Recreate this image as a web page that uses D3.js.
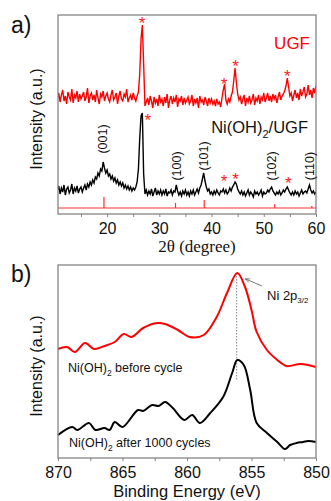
<!DOCTYPE html>
<html>
<head>
<meta charset="utf-8">
<script src="https://cdn.jsdelivr.net/npm/d3@7"></script>
<style>
  body { margin: 0; background: #fff; }
  svg { display: block; font-family: "Liberation Sans", Arial, sans-serif; }
</style>
</head>
<body>
<div id="chart"></div>
<script>
// XRD: intensities sampled every 0.25 deg from 10.5 to 60 deg
const xrdStart = 10.5, xrdStep = 0.25;
const ugfCounts = [
  116,121,112,119,124,113,118,110,122,117,114,125,111,119,116,123,112,120,115,118,
  122,113,117,126,111,118,121,114,119,112,124,116,110,120,117,123,113,118,121,115,
  112,119,124,114,117,121,110,118,123,115,113,120,117,125,112,116,119,114,121,116,
  113,118,122,140,175,189,150,108,112,116,109,118,113,106,117,111,115,108,119,112,
  115,108,117,111,120,106,114,118,110,116,112,119,107,115,113,118,109,116,111,114,
  117,110,113,119,108,115,111,116,106,118,112,114,109,117,113,108,116,111,115,110,
  113,108,115,110,112,107,116,124,130,114,110,115,112,118,122,133,146,132,120,114,
  117,110,115,119,108,116,112,118,111,114,120,109,116,113,119,110,117,114,121,112,
  116,121,113,118,112,120,115,119,111,117,122,114,118,120,123,128,136,127,118,121,
  113,119,124,116,121,114,125,118,122,127,117,120,129,119,124,116,126,121,128
];
const niUgfCounts = [
  24,28,20,26,22,29,19,25,27,21,24,30,20,26,23,28,21,25,27,22,
  26,29,24,30,27,32,29,34,31,37,35,41,38,45,43,52,46,41,44,38,
  40,35,38,33,36,31,34,29,32,28,31,26,29,25,28,24,27,23,26,24,
  27,32,45,76,98,101,40,20,24,19,23,20,25,18,22,26,19,23,20,24,
  19,23,20,25,18,22,21,24,19,23,22,29,23,19,22,18,23,20,24,19,
  22,18,23,20,24,19,22,25,21,26,29,35,41,33,27,23,25,20,22,19,
  23,20,24,21,19,23,22,25,21,24,20,22,26,23,27,29,32,30,25,22,
  20,23,19,22,18,21,24,19,22,20,17,23,20,22,19,21,24,18,22,20,
  21,24,22,25,27,23,21,19,22,20,23,19,21,24,22,25,27,24,21,19,
  22,19,23,20,22,18,21,24,20,22,23,21,25,29,24,21,23,20,22
];
// Ni(OH)2 reference pattern
const refAngles = [19.4, 33.1, 38.6, 52.1, 59.2];
const refHeights = [17, 11, 14, 10, 8];
const refBase = 6;
const hklLabels = ["(001)", "(100)", "(101)", "(102)", "(110)"];
const hklAngles = [19.3, 33.3, 38.5, 51.5, 58.8];
const hklLevels = [75, 48, 58, 48, 48];
// graphite (UGF) reflections marked with *
const starAnglesUgf = [26.7, 42.4, 44.6, 54.5];
const starLevelsUgf = [195, 134, 152, 142];
const starAnglesNi = [27.8, 42.4, 44.6, 54.7];
const starLevelsNi = [98, 37, 39, 35];

// XPS Ni 2p3/2
const beforeEnergy = [870, 869.3, 868.7, 867.9, 867.2, 866.4, 865.6, 864.9, 864.3, 863.4, 862.3, 861.7, 860.7, 859.8, 858.7, 857.7, 856.9, 856.1, 855.5, 855.0, 854.6, 853.8, 853.0, 852.3, 851.2, 850];
const beforeCounts = [109, 111, 106, 115, 109, 112, 116, 124, 121, 130, 135, 134, 128, 121, 123, 141, 165, 185, 171, 148, 126, 108, 98, 92, 94, 91];
const afterEnergy = [870, 868.9, 868.5, 867.6, 867.1, 866.4, 866, 865.6, 865, 863.8, 863.4, 862.7, 862.2, 861.7, 861.1, 860.2, 859.6, 859, 858.2, 857.2, 856.5, 856.1, 855.6, 855.1, 854.6, 853.8, 853, 852.4, 852, 851.5, 851, 850.6, 850];
const afterCounts = [23, 31, 28, 35, 28, 30, 28, 36, 31, 48, 47, 53, 52, 56, 50, 38, 43, 35, 45, 61, 85, 98, 93, 68, 35, 25, 16, 9, 13, 15, 16, 17, 16];
const peakEnergy = 856.15;
const xrdTicks = [15, 20, 25, 30, 35, 40, 45, 50, 55, 60];
const xpsTicks = [870, 867.5, 865, 862.5, 860, 857.5, 855, 852.5, 850];

const W = 331, H = 501;
const svg = d3.select("#chart").append("svg")
  .attr("width", W).attr("height", H);

const frameColor = "#858585";

// ---------- panel a ----------
const xA = d3.scaleLinear().domain([10.6, 60]).range([58, 316]);
const yA = d3.scaleLinear().domain([0, 199]).range([214, 15]);

svg.append("clipPath").attr("id", "clipA")
  .append("rect").attr("x", 58).attr("y", 15).attr("width", 258).attr("height", 199);

const xrdLine = d3.line()
  .x((d, i) => xA(xrdStart + i * xrdStep))
  .y(d => yA(d));

const plotA = svg.append("g").attr("clip-path", "url(#clipA)");
plotA.append("path").datum(ugfCounts)
  .attr("d", xrdLine).attr("fill", "none").attr("stroke", "#ff0000").attr("stroke-width", 1.4);
plotA.append("path").datum(niUgfCounts)
  .attr("d", xrdLine).attr("fill", "none").attr("stroke", "#000").attr("stroke-width", 1.4);

// reference sticks
plotA.append("line")
  .attr("x1", xA(10.6)).attr("x2", xA(60))
  .attr("y1", yA(refBase)).attr("y2", yA(refBase))
  .attr("stroke", "#ff3030").attr("stroke-width", 1);
plotA.selectAll(".stick").data(refAngles).enter().append("line")
  .attr("x1", d => xA(d)).attr("x2", d => xA(d))
  .attr("y1", yA(refBase)).attr("y2", (d, i) => yA(refHeights[i]))
  .attr("stroke", "#ff3030").attr("stroke-width", 1.2);

const axA = svg.append("g").attr("transform", "translate(0,214)")
  .call(d3.axisBottom(xA).tickValues(xrdTicks).tickSize(3).tickSizeOuter(0)
    .tickFormat(d => d % 10 === 0 ? d : ""));
axA.select(".domain").remove();
axA.selectAll("line").attr("stroke", frameColor);
axA.selectAll("text").attr("font-size", 16).attr("font-family", "Liberation Sans, Arial").attr("fill", "#111").attr("dy", "0.85em");

svg.append("rect").attr("x", 58).attr("y", 15).attr("width", 258).attr("height", 199)
  .attr("fill", "none").attr("stroke", frameColor).attr("stroke-width", 1.3);

// stars
function stars(angles, levels) {
  svg.selectAll(null).data(angles).enter().append("text")
    .attr("x", d => xA(d))
    .attr("y", (d, i) => yA(levels[i]) + 10)
    .attr("text-anchor", "middle")
    .attr("font-size", 17).attr("fill", "#ff2020")
    .text("*");
}
stars(starAnglesUgf, starLevelsUgf);
stars(starAnglesNi, starLevelsNi);

svg.selectAll(".hkl").data(hklLabels).enter().append("text")
  .attr("transform", (d, i) => `translate(${xA(hklAngles[i]) + 4},${yA(hklLevels[i])}) rotate(-90)`)
  .attr("text-anchor", "middle")
  .attr("font-size", 12.5).attr("fill", "#111")
  .text(d => d);

svg.append("text").attr("x", 310).attr("y", 49).attr("text-anchor", "end")
  .attr("font-size", 17).attr("fill", "#ff0000").text("UGF");
const niLabel = svg.append("text").attr("x", 308).attr("y", 133).attr("text-anchor", "end")
  .attr("font-size", 16.5).attr("fill", "#111");
niLabel.append("tspan").text("Ni(OH)");
niLabel.append("tspan").attr("font-size", 11).attr("dy", 5).text("2");
niLabel.append("tspan").attr("dy", -5).text("/UGF");

svg.append("text").attr("x", 197).attr("y", 252).attr("text-anchor", "middle")
  .attr("font-family", "Liberation Serif, Times New Roman, serif")
  .attr("font-size", 17).attr("fill", "#111").text("2θ (degree)");

svg.append("text").attr("transform", "translate(42,119) rotate(-90)")
  .attr("text-anchor", "middle").attr("font-size", 16).attr("fill", "#111")
  .text("Intensity (a.u.)");
svg.append("text").attr("x", 11).attr("y", 33).attr("font-size", 23).attr("fill", "#111").text("a)");

// ---------- panel b ----------
const xB = d3.scaleLinear().domain([870, 850]).range([58, 316]);
const yB = d3.scaleLinear().domain([0, 193]).range([458, 265]);

const xpsLine = d3.line().curve(d3.curveCatmullRom.alpha(0.5))
  .x(d => xB(d[0])).y(d => yB(d[1]));

svg.append("line")
  .attr("x1", xB(peakEnergy)).attr("x2", xB(peakEnergy))
  .attr("y1", yB(185)).attr("y2", yB(78))
  .attr("stroke", "#666").attr("stroke-width", 0.8).attr("stroke-dasharray", "1.5,1.5");

svg.append("path").datum(d3.zip(beforeEnergy, beforeCounts))
  .attr("d", xpsLine).attr("fill", "none").attr("stroke", "#ff0000").attr("stroke-width", 2);
svg.append("path").datum(d3.zip(afterEnergy, afterCounts))
  .attr("d", xpsLine).attr("fill", "none").attr("stroke", "#000").attr("stroke-width", 2);

const axB = svg.append("g").attr("transform", "translate(0,458)")
  .call(d3.axisBottom(xB).tickValues(xpsTicks).tickSize(3).tickSizeOuter(0)
    .tickFormat(d => d % 5 === 0 ? d : ""));
axB.select(".domain").remove();
axB.selectAll("line").attr("stroke", frameColor);
axB.selectAll("text").attr("font-size", 16).attr("font-family", "Liberation Sans, Arial").attr("fill", "#111").attr("dy", "0.9em");

svg.append("rect").attr("x", 58).attr("y", 265).attr("width", 258).attr("height", 193)
  .attr("fill", "none").attr("stroke", frameColor).attr("stroke-width", 1.3);

// arrow + Ni 2p3/2 label
svg.append("defs").append("marker").attr("id", "arr")
  .attr("viewBox", "0 0 10 10").attr("refX", 9).attr("refY", 5)
  .attr("markerWidth", 6).attr("markerHeight", 6).attr("orient", "auto")
  .append("path").attr("d", "M0,1 L10,5 L0,9").attr("fill", "none").attr("stroke", "#444").attr("stroke-width", 1.2);
svg.append("line")
  .attr("x1", 262).attr("y1", 286).attr("x2", xB(peakEnergy) + 9).attr("y2", yB(185) + 6)
  .attr("stroke", "#555").attr("stroke-width", 0.8).attr("marker-end", "url(#arr)");
const pLabel = svg.append("text").attr("x", 267).attr("y", 300)
  .attr("font-size", 13).attr("fill", "#111");
pLabel.append("tspan").text("Ni 2p");
pLabel.append("tspan").attr("font-size", 8).attr("dy", 3).text("3/2");

const bLabel = svg.append("text").attr("x", 68).attr("y", 372).attr("font-size", 12.5).attr("fill", "#111");
bLabel.append("tspan").text("Ni(OH)");
bLabel.append("tspan").attr("font-size", 8.5).attr("dy", 4).text("2");
bLabel.append("tspan").attr("dy", -4).text(" before cycle");
const aLabel = svg.append("text").attr("x", 69).attr("y", 447).attr("font-size", 12.5).attr("fill", "#111");
aLabel.append("tspan").text("Ni(OH)");
aLabel.append("tspan").attr("font-size", 8.5).attr("dy", 4).text("2");
aLabel.append("tspan").attr("dy", -4).text(" after 1000 cycles");

svg.append("text").attr("x", 187).attr("y", 497).attr("text-anchor", "middle")
  .attr("font-size", 16.5).attr("fill", "#111").text("Binding Energy (eV)");
svg.append("text").attr("transform", "translate(42,366) rotate(-90)")
  .attr("text-anchor", "middle").attr("font-size", 16).attr("fill", "#111")
  .text("Intensity (a.u.)");
svg.append("text").attr("x", 11).attr("y", 282).attr("font-size", 23).attr("fill", "#111").text("b)");
</script>
</body>
</html>
